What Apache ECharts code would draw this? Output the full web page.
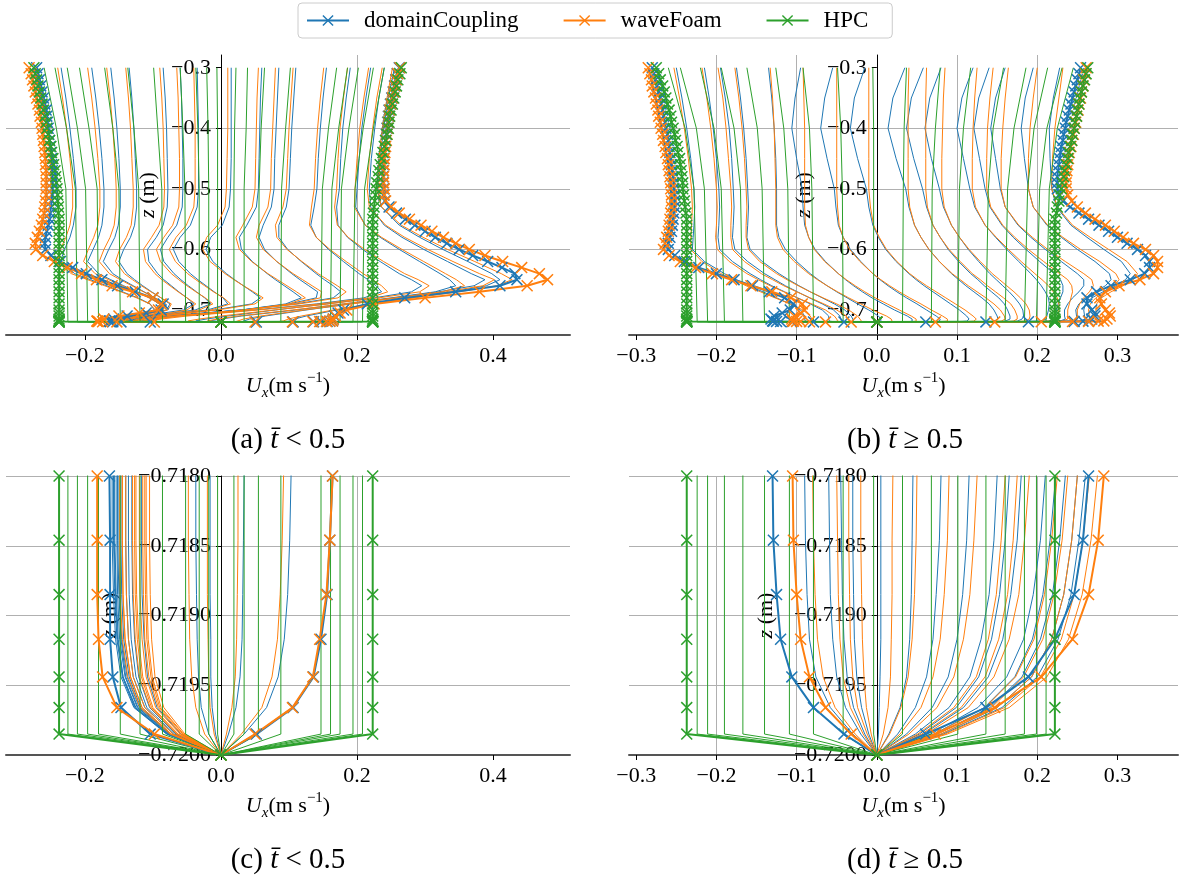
<!DOCTYPE html>
<html><head><meta charset="utf-8">
<script src="https://cdn.jsdelivr.net/npm/echarts@6/dist/echarts.min.js"></script>
<style>html,body{margin:0;padding:0;background:#fff}#c{width:1181px;height:881px}</style>
</head><body><div id="c"></div>
<script>
// ---------------- data ----------------
const SERIES_NAMES = ['domainCoupling', 'waveFoam', 'HPC'];
const Z_T = [-0.30,-0.35,-0.40,-0.45,-0.50,-0.53,-0.56,-0.58,-0.60,-0.62,-0.64,-0.65,-0.66,-0.67,-0.68,-0.69,-0.70,-0.71,-0.715,-0.718,-0.71846,-0.71885,-0.71917,-0.71944,-0.71966,-0.71985,-0.72];
const Z_E = [-0.30,-0.31,-0.32,-0.33,-0.34,-0.35,-0.36,-0.37,-0.38,-0.39,-0.40,-0.41,-0.42,-0.43,-0.44,-0.45,-0.46,-0.47,-0.48,-0.49,-0.50,-0.51,-0.52,-0.53,-0.54,-0.55,-0.56,-0.57,-0.58,-0.59,-0.60,-0.61,-0.62,-0.63,-0.64,-0.65,-0.66,-0.67,-0.68,-0.69,-0.70,-0.705,-0.71,-0.715,-0.718,-0.71846,-0.71885,-0.71917,-0.71944,-0.71966,-0.71985,-0.72];
const Z_G = [-0.30,-0.40,-0.50,-0.71985,-0.72];

const X_TICKS_A = [-0.2, 0, 0.2, 0.4];
const X_TICKS_B = [-0.3, -0.2, -0.1, 0, 0.1, 0.2, 0.3];
const Y_TICKS_A = [-0.7, -0.6, -0.5, -0.4, -0.3];
const Y_TICKS_C = [-0.72, -0.7195, -0.719, -0.7185, -0.718];

// t < 0.5 : domainCoupling thin profiles (on Z_T)
const A_DC = [
[0.255,0.246,0.239,0.234,0.230,0.236,0.262,0.292,0.326,0.363,0.398,0.410,0.390,0.340,0.280,0.220,0.170,0.125,0.108,0.103,0.101,0.098,0.093,0.084,0.067,0.034,0],
[0.240,0.232,0.226,0.221,0.218,0.220,0.240,0.266,0.298,0.333,0.368,0.388,0.372,0.320,0.255,0.190,0.125,0.065,0.042,0.034,0.033,0.032,0.031,0.028,0.022,0.011,0],
[0.220,0.213,0.207,0.203,0.200,0.198,0.212,0.234,0.262,0.292,0.322,0.336,0.345,0.315,0.250,0.180,0.110,0.030,0.000,-0.016,-0.016,-0.016,-0.015,-0.015,-0.013,-0.008,0],
[0.190,0.184,0.179,0.176,0.174,0.170,0.172,0.186,0.208,0.234,0.262,0.280,0.295,0.280,0.225,0.155,0.080,0.010,-0.022,-0.037,-0.037,-0.036,-0.035,-0.033,-0.029,-0.018,0],
[0.155,0.150,0.146,0.143,0.141,0.137,0.132,0.140,0.158,0.180,0.203,0.216,0.228,0.236,0.210,0.140,0.050,-0.060,-0.100,-0.117,-0.117,-0.116,-0.113,-0.108,-0.094,-0.059,0],
[0.110,0.107,0.104,0.102,0.100,0.096,0.085,0.085,0.098,0.118,0.140,0.152,0.165,0.176,0.165,0.110,0.030,-0.075,-0.115,-0.131,-0.131,-0.130,-0.127,-0.121,-0.105,-0.066,0],
[0.085,0.083,0.081,0.079,0.078,0.074,0.062,0.056,0.064,0.082,0.104,0.116,0.129,0.142,0.140,0.100,0.030,-0.078,-0.120,-0.136,-0.136,-0.135,-0.132,-0.125,-0.109,-0.068,0],
[0.060,0.058,0.057,0.056,0.055,0.052,0.038,0.027,0.030,0.046,0.068,0.080,0.093,0.106,0.118,0.095,0.030,-0.080,-0.125,-0.140,-0.140,-0.139,-0.136,-0.129,-0.112,-0.070,0],
[0.015,0.015,0.015,0.015,0.014,0.012,0.002,-0.015,-0.022,-0.012,0.008,0.020,0.033,0.046,0.058,0.045,-0.010,-0.100,-0.138,-0.147,-0.147,-0.146,-0.143,-0.135,-0.118,-0.074,0],
[-0.035,-0.034,-0.033,-0.033,-0.033,-0.035,-0.045,-0.060,-0.070,-0.062,-0.045,-0.034,-0.022,-0.010,0.003,0.010,-0.020,-0.100,-0.138,-0.150,-0.150,-0.149,-0.146,-0.138,-0.120,-0.075,0],
[-0.060,-0.058,-0.057,-0.056,-0.056,-0.057,-0.065,-0.078,-0.089,-0.084,-0.069,-0.059,-0.048,-0.036,-0.024,-0.015,-0.038,-0.108,-0.142,-0.153,-0.153,-0.152,-0.149,-0.141,-0.123,-0.077,0],
[-0.085,-0.082,-0.080,-0.079,-0.078,-0.079,-0.085,-0.095,-0.108,-0.106,-0.093,-0.084,-0.073,-0.062,-0.050,-0.040,-0.055,-0.115,-0.146,-0.156,-0.156,-0.154,-0.151,-0.144,-0.125,-0.078,0],
[-0.135,-0.131,-0.128,-0.126,-0.124,-0.124,-0.127,-0.133,-0.143,-0.150,-0.138,-0.127,-0.115,-0.102,-0.088,-0.075,-0.080,-0.125,-0.152,-0.160,-0.160,-0.158,-0.155,-0.147,-0.128,-0.080,0],
[-0.162,-0.157,-0.153,-0.150,-0.148,-0.148,-0.151,-0.156,-0.165,-0.173,-0.159,-0.145,-0.129,-0.113,-0.097,-0.083,-0.088,-0.128,-0.151,-0.158,-0.158,-0.156,-0.153,-0.145,-0.127,-0.079,0],
[-0.190,-0.184,-0.179,-0.175,-0.172,-0.172,-0.175,-0.180,-0.188,-0.196,-0.180,-0.162,-0.143,-0.124,-0.105,-0.090,-0.095,-0.130,-0.150,-0.157,-0.157,-0.155,-0.152,-0.144,-0.126,-0.079,0],
[-0.235,-0.228,-0.222,-0.217,-0.213,-0.213,-0.217,-0.222,-0.230,-0.236,-0.215,-0.192,-0.168,-0.145,-0.122,-0.104,-0.098,-0.125,-0.145,-0.152,-0.152,-0.150,-0.147,-0.140,-0.122,-0.076,0]
];
// t < 0.5 : waveFoam thin profiles (on Z_T)
const A_WF = [
[0.252,0.244,0.237,0.232,0.229,0.236,0.265,0.297,0.333,0.373,0.412,0.428,0.405,0.350,0.285,0.220,0.165,0.118,0.099,0.092,0.090,0.087,0.083,0.075,0.060,0.030,0],
[0.237,0.229,0.223,0.218,0.215,0.218,0.242,0.270,0.304,0.341,0.380,0.402,0.385,0.330,0.262,0.192,0.122,0.058,0.033,0.025,0.025,0.024,0.023,0.021,0.016,0.008,0],
[0.217,0.210,0.204,0.200,0.197,0.196,0.212,0.236,0.266,0.298,0.330,0.346,0.358,0.325,0.255,0.180,0.105,0.025,-0.005,-0.020,-0.020,-0.020,-0.019,-0.018,-0.016,-0.010,0],
[0.186,0.180,0.175,0.172,0.170,0.167,0.171,0.187,0.211,0.239,0.270,0.290,0.306,0.292,0.232,0.158,0.078,0.000,-0.032,-0.048,-0.048,-0.047,-0.046,-0.043,-0.037,-0.024,0],
[0.151,0.146,0.142,0.139,0.137,0.133,0.130,0.140,0.160,0.184,0.209,0.223,0.236,0.245,0.218,0.145,0.055,-0.050,-0.088,-0.105,-0.105,-0.104,-0.102,-0.097,-0.084,-0.053,0],
[0.106,0.103,0.100,0.098,0.096,0.091,0.080,0.082,0.097,0.119,0.143,0.157,0.171,0.184,0.172,0.115,0.035,-0.062,-0.098,-0.110,-0.110,-0.109,-0.107,-0.101,-0.088,-0.055,0],
[0.080,0.078,0.076,0.074,0.073,0.069,0.056,0.052,0.062,0.082,0.106,0.120,0.134,0.148,0.146,0.105,0.035,-0.065,-0.102,-0.112,-0.112,-0.111,-0.109,-0.103,-0.090,-0.056,0],
[0.055,0.053,0.052,0.051,0.050,0.046,0.032,0.022,0.027,0.045,0.069,0.083,0.097,0.111,0.124,0.100,0.035,-0.068,-0.105,-0.115,-0.115,-0.114,-0.112,-0.106,-0.092,-0.058,0],
[0.010,0.010,0.010,0.009,0.008,0.006,-0.005,-0.021,-0.027,-0.016,0.006,0.019,0.033,0.048,0.062,0.050,-0.005,-0.085,-0.112,-0.120,-0.120,-0.119,-0.116,-0.110,-0.096,-0.060,0],
[-0.040,-0.039,-0.038,-0.038,-0.038,-0.040,-0.051,-0.066,-0.076,-0.067,-0.049,-0.037,-0.024,-0.011,0.004,0.014,-0.015,-0.088,-0.115,-0.125,-0.125,-0.124,-0.121,-0.115,-0.100,-0.063,0],
[-0.065,-0.063,-0.062,-0.061,-0.061,-0.062,-0.071,-0.084,-0.095,-0.089,-0.073,-0.062,-0.050,-0.037,-0.023,-0.012,-0.032,-0.094,-0.118,-0.127,-0.127,-0.126,-0.123,-0.117,-0.102,-0.064,0],
[-0.090,-0.087,-0.085,-0.084,-0.083,-0.084,-0.091,-0.102,-0.114,-0.111,-0.097,-0.087,-0.075,-0.063,-0.050,-0.037,-0.050,-0.100,-0.122,-0.130,-0.130,-0.129,-0.126,-0.120,-0.104,-0.065,0],
[-0.140,-0.136,-0.133,-0.131,-0.129,-0.129,-0.132,-0.139,-0.149,-0.155,-0.142,-0.130,-0.117,-0.103,-0.088,-0.073,-0.078,-0.112,-0.132,-0.140,-0.140,-0.139,-0.136,-0.129,-0.112,-0.070,0],
[-0.168,-0.163,-0.159,-0.156,-0.154,-0.154,-0.157,-0.163,-0.172,-0.179,-0.164,-0.148,-0.131,-0.114,-0.097,-0.081,-0.085,-0.118,-0.137,-0.145,-0.145,-0.144,-0.141,-0.133,-0.116,-0.073,0],
[-0.196,-0.190,-0.185,-0.181,-0.178,-0.178,-0.181,-0.187,-0.195,-0.202,-0.185,-0.165,-0.145,-0.125,-0.106,-0.090,-0.092,-0.125,-0.143,-0.149,-0.149,-0.148,-0.145,-0.137,-0.119,-0.075,0],
[-0.240,-0.233,-0.227,-0.222,-0.218,-0.218,-0.222,-0.228,-0.236,-0.242,-0.220,-0.196,-0.171,-0.147,-0.124,-0.105,-0.096,-0.120,-0.138,-0.145,-0.145,-0.144,-0.141,-0.133,-0.116,-0.073,0]
];
// t < 0.5 : marked extreme profiles (on Z_E)
const A_DC_M = [
[-0.271,-0.269,-0.267,-0.265,-0.263,-0.261,-0.259,-0.257,-0.256,-0.255,-0.254,-0.253,-0.252,-0.251,-0.250,-0.249,-0.249,-0.248,-0.248,-0.248,-0.248,-0.248,-0.249,-0.250,-0.251,-0.252,-0.254,-0.256,-0.258,-0.259,-0.258,-0.250,-0.236,-0.218,-0.198,-0.175,-0.152,-0.126,-0.100,-0.085,-0.088,-0.110,-0.138,-0.158,-0.164,-0.163,-0.163,-0.163,-0.159,-0.147,-0.104,0],
[0.262,0.259,0.257,0.255,0.253,0.251,0.249,0.247,0.246,0.245,0.244,0.243,0.242,0.241,0.240,0.239,0.239,0.238,0.238,0.238,0.239,0.239,0.241,0.247,0.258,0.271,0.285,0.300,0.315,0.332,0.350,0.370,0.392,0.413,0.432,0.435,0.410,0.345,0.270,0.215,0.180,0.172,0.167,0.165,0.164,0.160,0.156,0.147,0.136,0.106,0.052,0]
];
const A_WF_M = [
[-0.282,-0.279,-0.277,-0.275,-0.273,-0.271,-0.269,-0.267,-0.266,-0.264,-0.263,-0.262,-0.261,-0.260,-0.259,-0.258,-0.258,-0.257,-0.257,-0.257,-0.257,-0.257,-0.258,-0.259,-0.260,-0.262,-0.264,-0.267,-0.270,-0.273,-0.272,-0.262,-0.245,-0.226,-0.205,-0.183,-0.160,-0.130,-0.100,-0.088,-0.092,-0.120,-0.150,-0.172,-0.182,-0.182,-0.182,-0.180,-0.174,-0.153,-0.098,0],
[0.263,0.260,0.258,0.256,0.254,0.252,0.250,0.248,0.247,0.246,0.245,0.244,0.243,0.242,0.241,0.240,0.240,0.239,0.239,0.239,0.240,0.240,0.242,0.250,0.262,0.277,0.294,0.310,0.327,0.345,0.365,0.388,0.414,0.442,0.468,0.480,0.450,0.380,0.300,0.225,0.185,0.175,0.168,0.165,0.164,0.160,0.155,0.145,0.135,0.105,0.050,0]
];
const A_HPC_M = [
[-0.275,-0.273,-0.271,-0.269,-0.267,-0.265,-0.263,-0.261,-0.259,-0.257,-0.256,-0.254,-0.252,-0.250,-0.249,-0.247,-0.246,-0.244,-0.243,-0.242,-0.241,-0.240,-0.240,-0.239,-0.239,
 -0.238,-0.238,-0.238,-0.238,-0.238,-0.238,-0.238,-0.238,-0.238,-0.238,-0.238,-0.238,-0.238,-0.238,-0.238,-0.238,
 -0.238,-0.238,-0.238,-0.238,-0.238,-0.238,-0.238,-0.238,-0.238,-0.238,0],
[0.265,0.263,0.260,0.258,0.256,0.254,0.252,0.250,0.248,0.247,0.246,0.244,0.242,0.240,0.238,0.236,0.234,0.232,0.231,0.229,0.228,0.227,0.226,0.225,0.224,
 0.223,0.223,0.223,0.223,0.223,0.223,0.223,0.223,0.223,0.223,0.223,0.223,0.223,0.223,0.223,0.223,
 0.223,0.223,0.223,0.223,0.223,0.223,0.223,0.223,0.223,0.223,0]
];
// t < 0.5 : HPC thin profiles (on Z_G)
const A_HPC = [
[-0.260,-0.242,-0.228,-0.225,0],[-0.244,-0.227,-0.214,-0.211,0],[-0.226,-0.211,-0.199,-0.196,0],
[-0.208,-0.194,-0.182,-0.180,0],[-0.171,-0.159,-0.150,-0.148,0],[-0.137,-0.128,-0.121,-0.119,0],
[-0.099,-0.093,-0.087,-0.086,0],[-0.060,-0.056,-0.053,-0.052,0],[-0.037,-0.034,-0.032,-0.032,0],
[-0.021,-0.019,-0.018,-0.018,0],[-0.006,-0.005,-0.005,-0.005,0],[0.022,0.020,0.019,0.019,0],
[0.039,0.037,0.034,0.034,0],[0.064,0.059,0.056,0.055,0],[0.102,0.095,0.089,0.088,0],
[0.170,0.158,0.149,0.147,0],[0.186,0.173,0.163,0.161,0],[0.202,0.188,0.177,0.175,0],
[0.224,0.209,0.197,0.194,0],[0.240,0.224,0.211,0.208,0]
];

// t >= 0.5 : domainCoupling thin profiles (on Z_T)
const B_DC = [
[-0.250,-0.243,-0.237,-0.232,-0.228,-0.227,-0.228,-0.229,-0.230,-0.215,-0.190,-0.175,-0.160,-0.142,-0.125,-0.108,-0.095,-0.090,-0.090,-0.090,-0.089,-0.087,-0.084,-0.076,-0.058,-0.030,0],
[-0.215,-0.209,-0.204,-0.200,-0.197,-0.196,-0.197,-0.198,-0.196,-0.180,-0.158,-0.145,-0.131,-0.115,-0.099,-0.083,-0.068,-0.060,-0.060,-0.060,-0.059,-0.058,-0.055,-0.050,-0.039,-0.020,0],
[-0.195,-0.189,-0.184,-0.181,-0.179,-0.178,-0.179,-0.180,-0.177,-0.161,-0.140,-0.127,-0.114,-0.099,-0.084,-0.068,-0.054,-0.046,-0.045,-0.045,-0.044,-0.043,-0.041,-0.037,-0.029,-0.015,0],
[-0.175,-0.170,-0.166,-0.163,-0.161,-0.160,-0.161,-0.162,-0.158,-0.143,-0.122,-0.110,-0.097,-0.083,-0.068,-0.053,-0.040,-0.032,-0.030,-0.030,-0.030,-0.029,-0.028,-0.025,-0.019,-0.010,0],
[-0.135,-0.131,-0.128,-0.126,-0.125,-0.125,-0.125,-0.122,-0.114,-0.100,-0.083,-0.073,-0.062,-0.050,-0.037,-0.024,-0.010,0.002,0.005,0.005,0.005,0.005,0.005,0.004,0.003,0.002,0],
[-0.095,-0.102,-0.106,-0.100,-0.093,-0.092,-0.090,-0.085,-0.077,-0.064,-0.048,-0.039,-0.029,-0.018,-0.006,0.008,0.022,0.038,0.044,0.045,0.044,0.043,0.041,0.037,0.029,0.015,0],
[-0.055,-0.065,-0.070,-0.062,-0.053,-0.051,-0.048,-0.042,-0.033,-0.020,-0.005,0.004,0.014,0.025,0.037,0.050,0.062,0.074,0.079,0.080,0.078,0.074,0.070,0.062,0.048,0.026,0],
[-0.015,-0.028,-0.033,-0.024,-0.013,-0.010,-0.005,0.002,0.011,0.024,0.040,0.049,0.059,0.070,0.081,0.092,0.103,0.112,0.115,0.115,0.112,0.107,0.100,0.089,0.069,0.037,0],
[0.035,0.020,0.014,0.024,0.036,0.040,0.047,0.055,0.065,0.078,0.093,0.102,0.111,0.121,0.131,0.140,0.146,0.150,0.151,0.150,0.146,0.140,0.130,0.116,0.090,0.048,0],
[0.058,0.043,0.037,0.046,0.057,0.062,0.070,0.079,0.089,0.102,0.117,0.126,0.134,0.143,0.152,0.159,0.163,0.166,0.166,0.165,0.160,0.153,0.143,0.127,0.099,0.053,0],
[0.080,0.066,0.060,0.068,0.078,0.083,0.093,0.103,0.114,0.127,0.141,0.149,0.157,0.165,0.172,0.178,0.182,0.183,0.181,0.180,0.175,0.167,0.157,0.139,0.108,0.058,0],
[0.120,0.106,0.100,0.108,0.116,0.122,0.135,0.148,0.162,0.177,0.192,0.199,0.205,0.210,0.214,0.215,0.214,0.212,0.211,0.210,0.204,0.195,0.183,0.162,0.126,0.067,0],
[0.140,0.127,0.121,0.128,0.135,0.141,0.156,0.170,0.186,0.203,0.221,0.229,0.232,0.232,0.229,0.226,0.224,0.223,0.223,0.223,0.216,0.207,0.194,0.172,0.134,0.071,0],
[0.160,0.148,0.142,0.148,0.154,0.160,0.176,0.192,0.210,0.230,0.250,0.258,0.258,0.252,0.244,0.238,0.234,0.234,0.235,0.235,0.228,0.219,0.204,0.181,0.141,0.075,0],
[0.195,0.185,0.180,0.184,0.189,0.195,0.212,0.230,0.250,0.272,0.290,0.292,0.285,0.272,0.260,0.252,0.248,0.249,0.250,0.250,0.243,0.233,0.218,0.193,0.150,0.080,0],
[0.228,0.220,0.215,0.216,0.218,0.224,0.242,0.262,0.283,0.305,0.316,0.310,0.298,0.282,0.268,0.260,0.258,0.259,0.260,0.260,0.252,0.242,0.226,0.200,0.156,0.083,0]
];
// t >= 0.5 : waveFoam thin profiles (on Z_T)
const B_WF = [
[-0.253,-0.246,-0.240,-0.235,-0.231,-0.230,-0.231,-0.232,-0.232,-0.218,-0.194,-0.179,-0.163,-0.145,-0.127,-0.108,-0.092,-0.083,-0.081,-0.080,-0.079,-0.077,-0.074,-0.067,-0.052,-0.027,0],
[-0.218,-0.212,-0.207,-0.203,-0.200,-0.199,-0.200,-0.201,-0.199,-0.184,-0.162,-0.148,-0.133,-0.116,-0.099,-0.081,-0.064,-0.053,-0.050,-0.050,-0.049,-0.048,-0.046,-0.042,-0.033,-0.017,0],
[-0.198,-0.192,-0.188,-0.185,-0.182,-0.181,-0.182,-0.182,-0.180,-0.165,-0.144,-0.130,-0.116,-0.100,-0.083,-0.066,-0.050,-0.038,-0.036,-0.035,-0.035,-0.034,-0.033,-0.030,-0.024,-0.012,0],
[-0.177,-0.172,-0.168,-0.165,-0.163,-0.162,-0.163,-0.163,-0.160,-0.146,-0.125,-0.112,-0.098,-0.083,-0.067,-0.050,-0.035,-0.024,-0.021,-0.020,-0.020,-0.019,-0.018,-0.016,-0.013,-0.007,0],
[-0.133,-0.130,-0.128,-0.127,-0.126,-0.126,-0.126,-0.124,-0.117,-0.103,-0.085,-0.074,-0.062,-0.049,-0.035,-0.020,-0.005,0.012,0.018,0.020,0.019,0.019,0.018,0.017,0.014,0.008,0],
[-0.092,-0.091,-0.090,-0.090,-0.090,-0.090,-0.089,-0.085,-0.078,-0.065,-0.048,-0.038,-0.027,-0.015,-0.002,0.013,0.028,0.043,0.049,0.050,0.049,0.047,0.044,0.039,0.030,0.016,0],
[-0.050,-0.050,-0.050,-0.050,-0.050,-0.049,-0.047,-0.042,-0.034,-0.021,-0.005,0.005,0.016,0.028,0.041,0.055,0.068,0.082,0.088,0.090,0.088,0.084,0.079,0.070,0.055,0.029,0],
[-0.010,-0.010,-0.010,-0.010,-0.010,-0.008,-0.004,0.003,0.012,0.025,0.041,0.051,0.062,0.074,0.086,0.098,0.110,0.120,0.124,0.125,0.121,0.116,0.108,0.096,0.075,0.040,0],
[0.040,0.039,0.039,0.039,0.039,0.041,0.047,0.055,0.065,0.078,0.094,0.104,0.114,0.125,0.136,0.146,0.154,0.159,0.160,0.160,0.155,0.149,0.139,0.124,0.096,0.051,0],
[0.062,0.061,0.061,0.061,0.061,0.063,0.070,0.079,0.090,0.104,0.119,0.129,0.138,0.148,0.158,0.167,0.172,0.175,0.175,0.175,0.170,0.163,0.152,0.135,0.105,0.056,0],
[0.085,0.083,0.082,0.081,0.081,0.084,0.093,0.103,0.115,0.129,0.144,0.153,0.162,0.171,0.179,0.186,0.190,0.191,0.190,0.190,0.184,0.177,0.165,0.146,0.114,0.061,0],
[0.125,0.122,0.120,0.119,0.119,0.123,0.135,0.149,0.164,0.180,0.197,0.206,0.214,0.220,0.225,0.227,0.227,0.226,0.225,0.225,0.218,0.209,0.196,0.173,0.135,0.072,0],
[0.145,0.141,0.138,0.137,0.137,0.142,0.157,0.172,0.189,0.208,0.228,0.238,0.243,0.244,0.242,0.240,0.238,0.238,0.238,0.238,0.231,0.221,0.207,0.183,0.143,0.076,0],
[0.164,0.160,0.157,0.155,0.155,0.160,0.177,0.194,0.213,0.235,0.258,0.268,0.270,0.265,0.258,0.253,0.250,0.250,0.250,0.250,0.243,0.233,0.218,0.193,0.150,0.080,0],
[0.200,0.195,0.191,0.189,0.189,0.195,0.213,0.232,0.254,0.278,0.298,0.302,0.296,0.284,0.273,0.266,0.264,0.265,0.265,0.265,0.257,0.246,0.230,0.204,0.159,0.085,0],
[0.232,0.227,0.222,0.219,0.218,0.225,0.244,0.266,0.289,0.312,0.325,0.320,0.307,0.292,0.280,0.274,0.273,0.274,0.275,0.275,0.267,0.256,0.239,0.212,0.165,0.088,0]
];
// t >= 0.5 : marked extreme profiles (on Z_E)
const B_DC_M = [
[-0.280,-0.278,-0.276,-0.274,-0.272,-0.270,-0.269,-0.267,-0.266,-0.264,-0.263,-0.261,-0.260,-0.259,-0.258,-0.257,-0.256,-0.255,-0.254,-0.253,-0.253,-0.252,-0.252,-0.252,-0.253,-0.254,-0.255,-0.256,-0.258,-0.260,-0.260,-0.252,-0.240,-0.222,-0.200,-0.178,-0.155,-0.134,-0.115,-0.104,-0.108,-0.118,-0.128,-0.132,-0.130,-0.129,-0.125,-0.120,-0.106,-0.079,-0.041,0],
[0.254,0.252,0.250,0.248,0.246,0.244,0.242,0.240,0.238,0.236,0.235,0.233,0.232,0.230,0.229,0.228,0.227,0.226,0.225,0.225,0.225,0.227,0.232,0.241,0.252,0.264,0.277,0.289,0.300,0.312,0.325,0.335,0.340,0.340,0.334,0.316,0.292,0.274,0.262,0.262,0.268,0.272,0.272,0.268,0.264,0.257,0.246,0.222,0.189,0.136,0.061,0]
];
const B_WF_M = [
[-0.285,-0.283,-0.281,-0.280,-0.278,-0.276,-0.275,-0.273,-0.272,-0.270,-0.269,-0.267,-0.266,-0.264,-0.263,-0.261,-0.260,-0.259,-0.258,-0.257,-0.257,-0.256,-0.256,-0.256,-0.257,-0.258,-0.259,-0.260,-0.262,-0.264,-0.266,-0.259,-0.245,-0.226,-0.205,-0.181,-0.157,-0.131,-0.107,-0.093,-0.090,-0.095,-0.103,-0.106,-0.105,-0.104,-0.100,-0.095,-0.084,-0.064,-0.032,0],
[0.261,0.260,0.258,0.257,0.255,0.254,0.252,0.251,0.249,0.248,0.246,0.245,0.243,0.242,0.240,0.239,0.238,0.237,0.236,0.236,0.236,0.238,0.243,0.250,0.260,0.272,0.285,0.296,0.307,0.320,0.335,0.345,0.350,0.350,0.345,0.328,0.302,0.285,0.278,0.280,0.285,0.290,0.291,0.287,0.283,0.276,0.264,0.244,0.205,0.147,0.073,0]
];
const B_HPC_M = [
[-0.275,-0.272,-0.270,-0.267,-0.265,-0.263,-0.261,-0.259,-0.257,-0.256,-0.254,-0.252,-0.251,-0.249,-0.248,-0.246,-0.245,-0.244,-0.243,-0.242,-0.242,-0.241,-0.240,-0.239,-0.238,
 -0.237,-0.237,-0.237,-0.237,-0.237,-0.237,-0.237,-0.237,-0.237,-0.237,-0.237,-0.237,-0.237,-0.237,-0.237,-0.237,
 -0.237,-0.237,-0.237,-0.237,-0.237,-0.237,-0.237,-0.237,-0.237,-0.237,0],
[0.263,0.261,0.259,0.257,0.255,0.253,0.252,0.250,0.249,0.247,0.246,0.244,0.243,0.241,0.239,0.238,0.236,0.234,0.233,0.231,0.230,0.228,0.227,0.225,0.224,
 0.222,0.222,0.222,0.222,0.222,0.222,0.222,0.222,0.222,0.222,0.222,0.222,0.222,0.222,0.222,0.222,
 0.222,0.222,0.222,0.222,0.222,0.222,0.222,0.222,0.222,0.222,0]
];
// t >= 0.5 : HPC thin profiles (on Z_G)
const B_HPC = [
[-0.260,-0.239,-0.228,-0.224,0],[-0.245,-0.225,-0.215,-0.211,0],[-0.220,-0.203,-0.194,-0.190,0],
[-0.194,-0.178,-0.170,-0.167,0],[-0.162,-0.149,-0.143,-0.140,0],[-0.126,-0.116,-0.111,-0.109,0],
[-0.092,-0.084,-0.081,-0.079,0],[-0.049,-0.045,-0.043,-0.042,0],[-0.005,-0.004,-0.004,-0.004,0],
[0.037,0.034,0.033,0.032,0],[0.079,0.073,0.069,0.068,0],[0.117,0.108,0.103,0.101,0],
[0.158,0.145,0.139,0.136,0],[0.186,0.171,0.163,0.160,0],[0.213,0.196,0.188,0.184,0],
[0.231,0.212,0.203,0.199,0],[0.245,0.225,0.215,0.211,0]
];

// ---------------- chart ----------------
const FONT = "'Liberation Serif','DejaVu Serif',serif";
const COLORS = ['#1f77b4', '#ff7f0e', '#2ca02c'];
const X_MARK = 'path://M0.9,0L10,9.1L9.1,10L0,0.9Z M9.1,0L10,0.9L0.9,10L0,9.1Z';

function mk(name, color, zs, xs, g, marked) {
  return {
    type: 'line', name: name, xAxisIndex: g, yAxisIndex: g,
    data: zs.map((z, i) => [xs[i], z]),
    symbol: X_MARK, symbolSize: 12, showSymbol: marked,
    lineStyle: { color: color, width: marked ? 2 : 1 },
    itemStyle: { color: color },
    z: marked ? 4 : 2, silent: true, animation: false, clip: true,
    emphasis: { disabled: true }
  };
}

const PANELS = [
  { g: 0, dc: A_DC, wf: A_WF, hpc: A_HPC, dcM: A_DC_M, wfM: A_WF_M, hpcM: A_HPC_M },
  { g: 1, dc: B_DC, wf: B_WF, hpc: B_HPC, dcM: B_DC_M, wfM: B_WF_M, hpcM: B_HPC_M },
  { g: 2, dc: A_DC, wf: A_WF, hpc: A_HPC, dcM: A_DC_M, wfM: A_WF_M, hpcM: A_HPC_M },
  { g: 3, dc: B_DC, wf: B_WF, hpc: B_HPC, dcM: B_DC_M, wfM: B_WF_M, hpcM: B_HPC_M }
];
const series = [];
PANELS.forEach(p => {
  p.dc.forEach(xs => series.push(mk(SERIES_NAMES[0], COLORS[0], Z_T, xs, p.g, false)));
  p.wf.forEach(xs => series.push(mk(SERIES_NAMES[1], COLORS[1], Z_T, xs, p.g, false)));
  p.hpc.forEach(xs => series.push(mk(SERIES_NAMES[2], COLORS[2], Z_G, xs, p.g, false)));
  p.dcM.forEach(xs => series.push(mk(SERIES_NAMES[0], COLORS[0], Z_E, xs, p.g, true)));
  p.wfM.forEach(xs => series.push(mk(SERIES_NAMES[1], COLORS[1], Z_E, xs, p.g, true)));
  p.hpcM.forEach(xs => series.push(mk(SERIES_NAMES[2], COLORS[2], Z_E, xs, p.g, true)));
});

function fmt(d) {
  return v => (v < -1e-9 ? '\u2212' : '') + Math.abs(v).toFixed(d);
}
const richName = {
  i: { fontFamily: FONT, fontStyle: 'italic', fontSize: 22, color: '#000' },
  s: { fontFamily: FONT, fontStyle: 'italic', fontSize: 15, verticalAlign: 'bottom', color: '#000' },
  p: { fontFamily: FONT, fontSize: 15, verticalAlign: 'top', color: '#000' }
};
const GRIDS = [
  { left: 6, top: 55, width: 564, height: 280 },
  { left: 629, top: 55, width: 549, height: 280 },
  { left: 6, top: 476, width: 564, height: 279 },
  { left: 629, top: 476, width: 549, height: 279 }
];
const XR = [[-0.316, 0.513], [-0.309, 0.3755], [-0.316, 0.513], [-0.309, 0.3755]];
function xAxis(g, ticks) {
  return {
    gridIndex: g, type: 'value', min: XR[g][0], max: XR[g][1], position: 'bottom',
    axisLine: { onZero: false, lineStyle: { color: '#555', width: 2 } },
    axisTick: { show: true, length: 5, customValues: ticks, lineStyle: { color: '#000', width: 1 } },
    axisLabel: { customValues: ticks, formatter: fmt(1), fontFamily: FONT, fontSize: 22, color: '#000', margin: 10 },
    splitLine: { show: true, showMinLine: false, showMaxLine: false, lineStyle: { color: '#b0b0b0', width: 1 } },
    name: '{i|U}{s|x}(m s{p|\u22121})', nameLocation: 'middle', nameGap: 36,
    nameTextStyle: { fontFamily: FONT, fontSize: 22, color: '#000', lineHeight: 30, rich: richName }
  };
}
function yAxis(g, min, max, ticks, dec, gap, showMax) {
  // place the y axis where x = 0 (spine at zero)
  const off = -(0 - XR[g][0]) / (XR[g][1] - XR[g][0]) * GRIDS[g].width;
  return {
    gridIndex: g, type: 'value', min: min, max: max, position: 'left', offset: off,
    axisLine: { onZero: false, lineStyle: { color: '#000', width: 1 } },
    axisTick: { show: true, length: 5, customValues: ticks, lineStyle: { color: '#000', width: 1 } },
    axisLabel: { customValues: ticks, formatter: fmt(dec), fontFamily: FONT, fontSize: 22, color: '#000', margin: 10 },
    splitLine: { show: true, showMinLine: false, showMaxLine: showMax, lineStyle: { color: '#b0b0b0', width: 1 } },
    name: '{i|z} (m)', nameLocation: 'middle', nameRotate: 90, nameGap: gap,
    nameTextStyle: { fontFamily: FONT, fontSize: 22, color: '#000', rich: richName }
  };
}

const capRich = { i: { fontFamily: FONT, fontStyle: 'italic', fontSize: 29, fill: '#000', color: '#000' } };
function caption(x, y, text) {
  return { type: 'text', x: x, y: y, silent: true,
    style: { text: text, fontFamily: FONT, fontSize: 29, fill: '#000', align: 'center', verticalAlign: 'middle', rich: capRich } };
}

const chart = echarts.init(document.getElementById('c'), null, { renderer: 'canvas' });
chart.setOption({
  animation: false,
  backgroundColor: '#ffffff',
  grid: GRIDS.map(g => Object.assign({ containLabel: false, outerBoundsMode: 'none' }, g)),
  xAxis: [xAxis(0, X_TICKS_A), xAxis(1, X_TICKS_B), xAxis(2, X_TICKS_A), xAxis(3, X_TICKS_B)],
  yAxis: [
    yAxis(0, -0.7413, -0.279, Y_TICKS_A, 1, 62, false),
    yAxis(1, -0.7413, -0.279, Y_TICKS_A, 1, 62, false),
    yAxis(2, -0.72, -0.718, Y_TICKS_C, 4, 100, true),
    yAxis(3, -0.72, -0.718, Y_TICKS_C, 4, 100, true)
  ],
  legend: {
    data: SERIES_NAMES, left: 298, top: 3, orient: 'horizontal',
    itemWidth: 42, itemHeight: 14, itemGap: 44, selectedMode: false,
    padding: [6, 24, 6, 8], borderColor: '#cccccc', borderWidth: 1, borderRadius: 4,
    backgroundColor: '#ffffff',
    textStyle: { fontFamily: FONT, fontSize: 23, color: '#000', padding: [0, 0, 0, 10] }
  },
  graphic: [
    caption(288, 440, '(a) {i|t\u0304} < 0.5'),
    caption(905, 440, '(b) {i|t\u0304} \u2265 0.5'),
    caption(288, 860, '(c) {i|t\u0304} < 0.5'),
    caption(905, 860, '(d) {i|t\u0304} \u2265 0.5')
  ],
  series: series
});
</script>
</body></html>
